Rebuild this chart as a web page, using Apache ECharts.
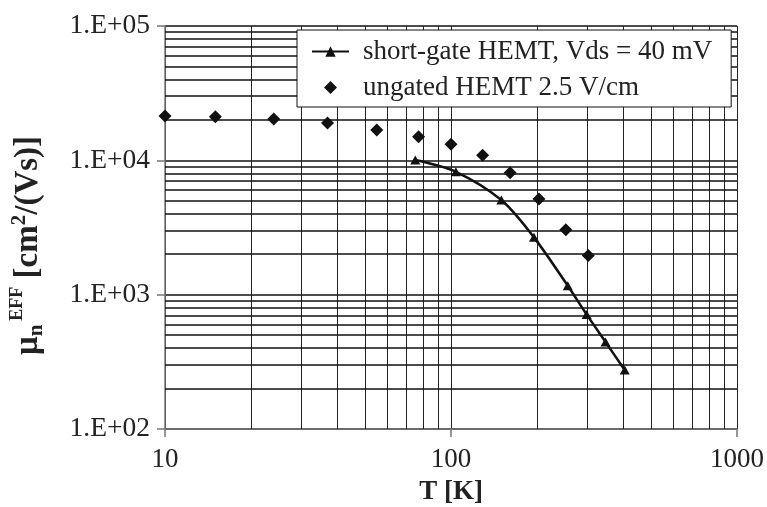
<!DOCTYPE html>
<html>
<head>
<meta charset="utf-8">
<script src="https://cdn.jsdelivr.net/npm/echarts@6/dist/echarts.min.js"></script>
<style>
html,body{margin:0;padding:0;background:#fff}
#chart{width:767px;height:507px}
</style>
</head>
<body>
<div id="chart"></div>
<script>
// short-gate HEMT, Vds = 40 mV
var gateT = [75, 104, 150, 195, 256, 298, 347, 405];
var gateMu = [10050, 8220, 5060, 2670, 1165, 713, 444, 275];
// ungated HEMT 2.5 V/cm
var ungatedT = [10, 15, 24, 37, 55, 77, 100, 129, 161, 203, 252, 302];
var ungatedMu = [21400, 21100, 20300, 19000, 16800, 15000, 13200, 10900, 8100, 5150, 3040, 1960];
// minor grid lines (log scale)
var xMinor = [20, 30, 40, 50, 60, 70, 80, 90, 200, 300, 400, 500, 600, 700, 800, 900];
var yMinor = [200, 300, 400, 500, 600, 700, 800, 900,
  2000, 3000, 4000, 5000, 6000, 7000, 8000, 9000,
  20000, 30000, 40000, 50000, 60000, 70000, 80000, 90000];

var FONT = '"Liberation Serif", "Times New Roman", serif';
var chart = echarts.init(document.getElementById('chart'));

function pair(xs, ys) {
  var out = [];
  for (var i = 0; i < xs.length; i++) out.push([xs[i], ys[i]]);
  return out;
}

var minorLines = [];
xMinor.forEach(function (v) {
  minorLines.push({ xAxis: v, lineStyle: { color: '#222', width: 1, type: 'solid' } });
});
yMinor.forEach(function (v) {
  minorLines.push({ yAxis: v, lineStyle: { color: '#111', width: 1.5, type: 'solid' } });
});

var option = {
  animation: false,
  backgroundColor: '#fff',
  grid: { left: 165, right: 30, top: 26, bottom: 78, outerBoundsMode: 'none', containLabel: false },
  legend: {
    data: [
      { name: 'short-gate HEMT, Vds = 40 mV' },
      { name: 'ungated HEMT 2.5 V/cm', icon: 'path://M0,-1L1,0L0,1L-1,0Z' }
    ],
    orient: 'vertical',
    left: 297,
    top: 30,
    z: 10,
    padding: [8, 19, 6, 14],
    itemGap: 9,
    itemWidth: 37,
    itemHeight: 13,
    symbolKeepAspect: true,
    backgroundColor: '#fff',
    borderColor: '#111',
    borderWidth: 1,
    formatter: function (n) { return '{g|}' + n; },
    textStyle: {
      fontFamily: FONT, fontSize: 27, color: '#222',
      rich: { g: { width: 9 } }
    }
  },
  xAxis: {
    type: 'log',
    logBase: 10,
    min: 10,
    max: 1000,
    name: 'T [K]',
    nameLocation: 'middle',
    nameGap: 50,
    nameTextStyle: { fontFamily: FONT, fontSize: 27, fontWeight: 'bold', color: '#222' },
    axisLine: { lineStyle: { color: '#777', width: 1.5 } },
    axisTick: { show: true, inside: false, length: 8, lineStyle: { color: '#777', width: 1.5 } },
    axisLabel: {
      fontFamily: FONT, fontSize: 27, color: '#222', margin: 17,
      formatter: function (v) { return String(Math.round(v)); }
    },
    splitLine: { show: true, lineStyle: { color: '#222', width: 1 } }
  },
  yAxis: {
    type: 'log',
    logBase: 10,
    min: 100,
    max: 100000,
    name: '{b|μ}{sub|n}{sup|EFF}{b| [cm}{sup2|2}{b|/(Vs)]}',
    nameLocation: 'middle',
    nameRotate: 90,
    nameGap: 116,
    nameTextStyle: {
      fontFamily: FONT, fontWeight: 'bold', color: '#222',
      padding: [0, 36, 0, 0],
      rich: {
        b: { fontFamily: FONT, fontSize: 33, fontWeight: 'bold', color: '#222', lineHeight: 42, verticalAlign: 'middle' },
        sub: { fontFamily: FONT, fontSize: 21, fontWeight: 'bold', color: '#222', padding: [17, 0, 0, 0] },
        sup: { fontFamily: FONT, fontSize: 18, fontWeight: 'bold', color: '#222', padding: [0, 0, 22, 4] },
        sup2: { fontFamily: FONT, fontSize: 21, fontWeight: 'bold', color: '#222', padding: [0, 0, 17, 0] }
      }
    },
    axisLine: { show: true, lineStyle: { color: '#777', width: 1.5 } },
    axisTick: { show: true, inside: false, length: 8, lineStyle: { color: '#777', width: 1.5 } },
    axisLabel: {
      fontFamily: FONT, fontSize: 27.5, color: '#222', margin: 15,
      formatter: function (v) {
        var e = Math.round(Math.log10(v));
        return '1.E+' + (e < 10 ? '0' + e : e);
      }
    },
    splitLine: { show: true, lineStyle: { color: '#111', width: 1.5 } }
  },
  series: [
    {
      name: 'grid',
      type: 'line',
      data: [],
      silent: true,
      z: 1,
      markLine: {
        silent: true,
        z: 1,
        symbol: 'none',
        animation: false,
        label: { show: false },
        emphasis: { disabled: true },
        data: minorLines
      }
    },
    {
      name: 'short-gate HEMT, Vds = 40 mV',
      type: 'line',
      data: pair(gateT, gateMu),
      smooth: 0.3,
      symbol: 'triangle',
      symbolSize: [10, 9],
      z: 5,
      itemStyle: { color: '#111', opacity: 1 },
      lineStyle: { color: '#111', width: 2.5 }
    },
    {
      name: 'ungated HEMT 2.5 V/cm',
      type: 'scatter',
      data: pair(ungatedT, ungatedMu),
      symbol: 'diamond',
      symbolSize: 13,
      z: 5,
      itemStyle: { color: '#111', opacity: 1 }
    }
  ]
};
chart.setOption(option);
</script>
</body>
</html>
